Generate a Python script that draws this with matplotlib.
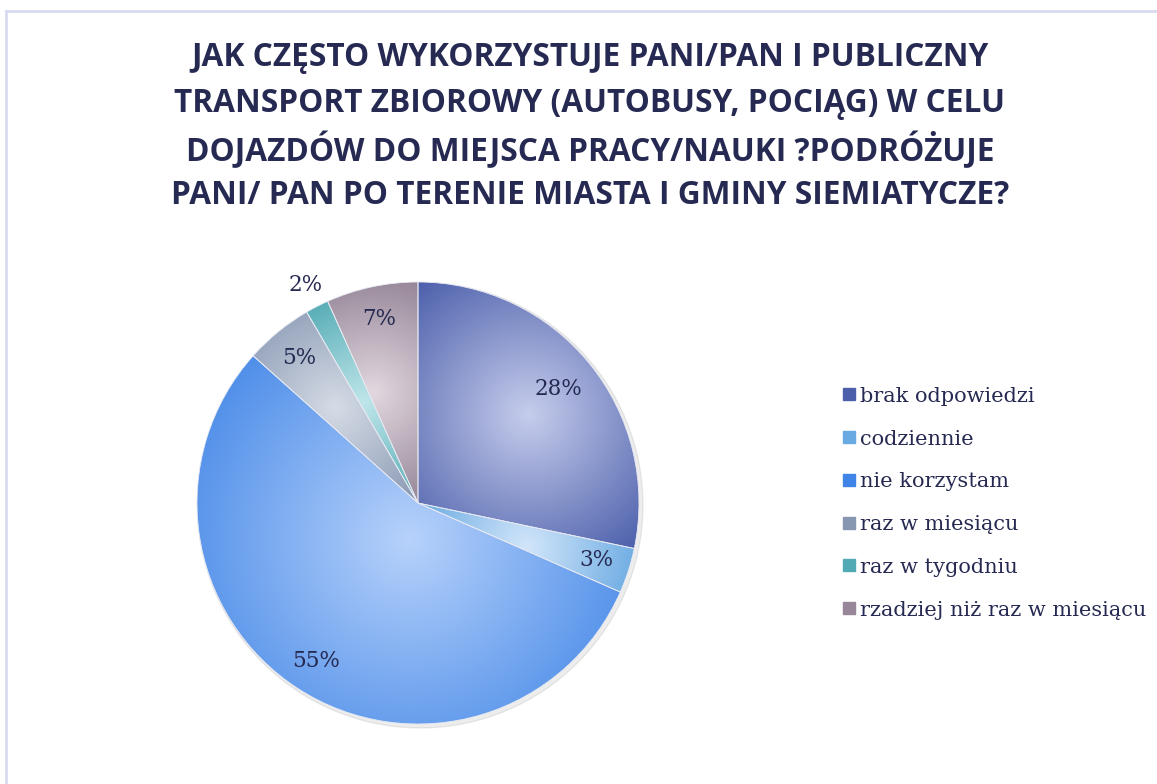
import numpy as np
import matplotlib.pyplot as plt
from matplotlib.colors import to_rgb
from matplotlib.lines import Line2D

kategorie = ['brak odpowiedzi', 'codziennie', 'nie korzystam',
             'raz w miesiącu', 'raz w tygodniu', 'rzadziej niż raz w miesiącu']
procenty = [28.3, 3.3, 55.0, 5.0, 1.7, 6.7]
kolory_brzeg = ['#4c5fab', '#6aaae2', '#3f84e6', '#8797b2', '#52aab4', '#968698']
kolory_srodek = ['#c6cdec', '#d2e6fa', '#b7d2fb', '#d6dce6', '#bfe6ea', '#e2d8e0']

tytul = ['JAK CZĘSTO WYKORZYSTUJE PANI/PAN I PUBLICZNY',
         'TRANSPORT ZBIOROWY (AUTOBUSY, POCIĄG) W CELU',
         'DOJAZDÓW DO MIEJSCA PRACY/NAUKI ?PODRÓŻUJE',
         'PANI/ PAN PO TERENIE MIASTA I GMINY SIEMIATYCZE?']

granat = '#262a52'
W, H = 1157, 784

fig = plt.figure(figsize=(W / 100, H / 100), dpi=100)
fig.patch.set_facecolor('white')

# ramka (gora i lewa krawedz)
fig.add_artist(Line2D([6 / W, 1], [1 - 11 / H, 1 - 11 / H], color='#d8daf0', lw=2))
fig.add_artist(Line2D([6 / W, 6 / W], [0, 1 - 11 / H], color='#d8daf0', lw=2))

# tytul - kazda linia osobno, rowne odstepy
for i, linia in enumerate(tytul):
    fig.text(590 / W, 1 - (54 + 46 * i) / H, linia, ha='center', va='center_baseline',
             fontsize=22.8, fontweight='bold', family='Open Sans', color=granat)

# os kolowa: srodek (418, 503), promien 221 px
r_px = 221
cx_px, cy_px = 418, 503
ax = fig.add_axes([(cx_px - 240) / W, 1 - (cy_px + 240) / H, 480 / W, 480 / H])
ax.axis('off')

# cien pod kolem
cien = plt.Circle((0.01, -0.01), 1.008, color='#000000', alpha=0.07, zorder=0)
ax.add_patch(cien)

wedges, teksty, pct = ax.pie(procenty, startangle=90, counterclock=False,
                             colors=kolory_brzeg, radius=1,
                             autopct='%1.0f%%', pctdistance=0.85,
                             wedgeprops=dict(edgecolor='#e8eaf2', linewidth=0.6),
                             textprops=dict(family='DejaVu Serif', fontsize=15.5, color=granat))

# gradient radialny w kazdym wycinku
for w, c_brzeg, c_srodek in zip(wedges, kolory_brzeg, kolory_srodek):
    t1, t2 = np.radians(w.theta1), np.radians(w.theta2)
    kat = np.linspace(t1, t2, 100)
    xs = np.concatenate([[0], np.cos(kat)])
    ys = np.concatenate([[0], np.sin(kat)])
    x0, x1, y0, y1 = xs.min(), xs.max(), ys.min(), ys.max()
    cx, cy = (x0 + x1) / 2, (y0 + y1) / 2
    rr = np.hypot(x1 - x0, y1 - y0) / 2
    gx, gy = np.meshgrid(np.linspace(x0, x1, 200), np.linspace(y0, y1, 200))
    d = np.clip(np.hypot(gx - cx, gy - cy) / rr, 0, 1)[..., None]
    img = (1 - d) * np.array(to_rgb(c_srodek)) + d * np.array(to_rgb(c_brzeg))
    im = ax.imshow(img, extent=[x0, x1, y0, y1], origin='lower', zorder=1,
                   interpolation='bilinear')
    im.set_clip_path(w)
    w.set_zorder(1.5)
    w.set_facecolor('none')

ax.set_xlim(-240 / r_px, 240 / r_px)
ax.set_ylim(-240 / r_px, 240 / r_px)
ax.set_aspect('equal')

for t in pct:
    t.set_zorder(3)

# 28% troche blizej srodka, 2% poza kolem
for i, odl in [(0, 0.82), (4, 1.11)]:
    w = wedges[i]
    kat = np.radians((w.theta1 + w.theta2) / 2)
    pct[i].set_position((odl * np.cos(kat), odl * np.sin(kat)))

# legenda
uchwyty = [Line2D([], [], marker='s', linestyle='', markersize=9,
                  markerfacecolor=c, markeredgecolor=c) for c in kolory_brzeg]
fig.legend(uchwyty, kategorie, loc='upper left', bbox_to_anchor=(824 / W, 1 - 368 / H),
           frameon=False, prop=dict(family='DejaVu Serif', size=15),
           labelcolor=granat, handlelength=0.6, handletextpad=0.25, labelspacing=1.14)

fig.savefig('out.png', dpi=100)
